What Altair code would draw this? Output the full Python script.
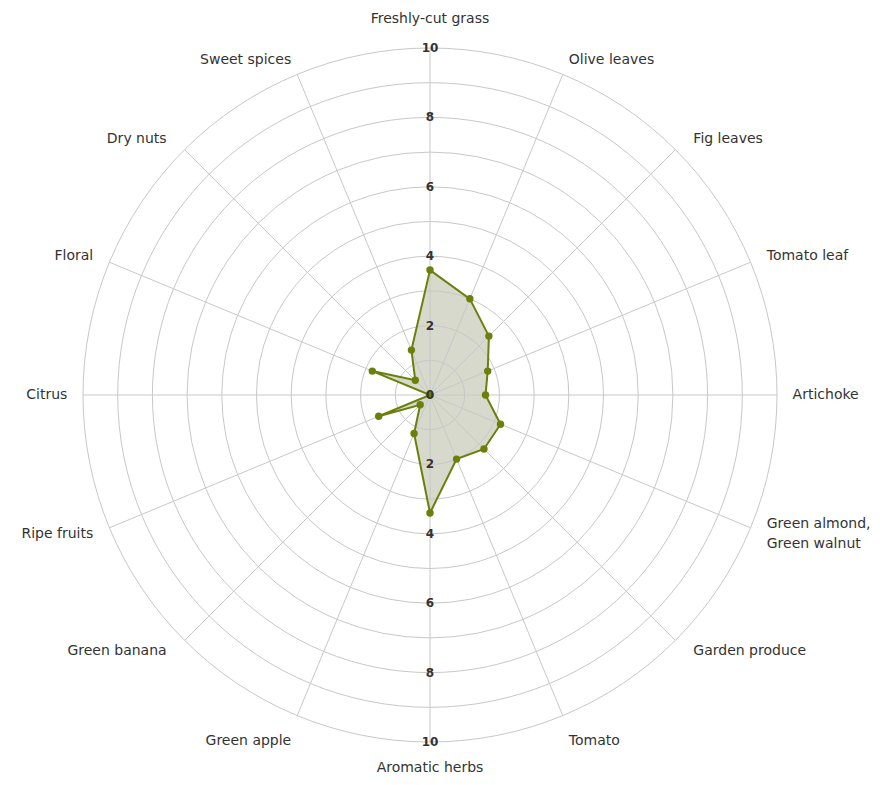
import math
import altair as alt
import pandas as pd

# ---- data ----
categories = [
    "Freshly-cut grass", "Olive leaves", "Fig leaves", "Tomato leaf",
    "Artichoke", "Green almond,\nGreen walnut", "Garden produce", "Tomato",
    "Aromatic herbs", "Green apple", "Green banana", "Ripe fruits",
    "Citrus", "Floral", "Dry nuts", "Sweet spices",
]
values = [3.6, 3.0, 2.4, 1.8, 1.6, 2.2, 2.2, 2.0, 3.4, 1.2, 0.4, 1.6, 0.0, 1.8, 0.6, 1.4]
rings = [1, 2, 3, 4, 5, 6, 7, 8, 9, 10]
ticks_up = [0, 2, 4, 6, 8, 10]
ticks_down = [2, 4, 6, 8, 10]
max_value = 10

N = len(categories)
R_PX = 347
SIZE = 2 * R_PX

LINE_COLOR = "#6b800b"
FILL_COLOR = "#d6d9cc"
GRID_COLOR = "#c8c8c8"
TEXT_COLOR = "#333333"
FONT = "DejaVu Sans"

df = pd.DataFrame({"category": categories, "value": values, "idx": list(range(N))})
spokes = pd.DataFrame({"idx": list(range(N)), "value": [max_value] * N})
ring_df = pd.DataFrame({"r": rings})
tick_df = pd.DataFrame({
    "label": [str(t) for t in ticks_up] + [str(t) for t in ticks_down],
    "pos": ticks_up + [-t for t in ticks_down],
})

xs = alt.Scale(domain=[-max_value, max_value], nice=False, zero=False)
ys = alt.Scale(domain=[-max_value, max_value], nice=False, zero=False)

angle_expr = f"datum.idx * 2 * PI / {N}"

def polar(chart):
    return chart.transform_calculate(
        a=angle_expr
    ).transform_calculate(
        x="datum.value * sin(datum.a)",
        y="datum.value * cos(datum.a)",
    )

# filled polygon
fill_layer = polar(alt.Chart(df)).mark_line(
    interpolate="linear-closed", fill=FILL_COLOR, stroke="transparent", strokeWidth=0
).encode(
    x=alt.X("x:Q", scale=xs, axis=None),
    y=alt.Y("y:Q", scale=ys, axis=None),
    order="idx:Q",
)

# grid rings
ring_layer = alt.Chart(ring_df).mark_arc(
    theta=0, theta2=6.2833, filled=False, color=GRID_COLOR, strokeWidth=1
).encode(
    radius=alt.Radius("r:Q", stack=None,
                      scale=alt.Scale(type="linear", domain=[0, max_value], range=[0, R_PX]))
)

# spokes
spoke_layer = alt.Chart(spokes).transform_calculate(
    a=angle_expr
).transform_calculate(
    x0="0", y0="0",
    xe="datum.value * sin(datum.a)",
    ye="datum.value * cos(datum.a)",
).mark_rule(color=GRID_COLOR, strokeWidth=1).encode(
    x=alt.X("x0:Q", scale=xs, axis=None),
    y=alt.Y("y0:Q", scale=ys, axis=None),
    x2="xe:Q",
    y2="ye:Q",
)

# outline
line_layer = polar(alt.Chart(df)).mark_line(
    interpolate="linear-closed", color=LINE_COLOR, strokeWidth=2
).encode(
    x=alt.X("x:Q", scale=xs, axis=None),
    y=alt.Y("y:Q", scale=ys, axis=None),
    order="idx:Q",
)

point_layer = polar(alt.Chart(df)).mark_circle(
    color=LINE_COLOR, size=55, opacity=1
).encode(
    x=alt.X("x:Q", scale=xs, axis=None),
    y=alt.Y("y:Q", scale=ys, axis=None),
)

# value ticks along vertical axis
tick_layer = alt.Chart(tick_df).transform_calculate(x0="0").mark_text(
    font=FONT, fontSize=12, fontWeight="bold", color=TEXT_COLOR, baseline="middle", align="center"
).encode(
    x=alt.X("x0:Q", scale=xs, axis=None),
    y=alt.Y("pos:Q", scale=ys, axis=None),
    text="label:N",
)

# category labels
def label_layer(filter_expr, align, dy=0):
    return alt.Chart(df).transform_calculate(
        a=angle_expr
    ).transform_calculate(
        s="sin(datum.a)", c="cos(datum.a)"
    ).transform_calculate(
        lr="abs(datum.c) > 0.99 ? 10.85 : 10.45",
        ox="abs(datum.s) > 0.6 && abs(datum.s) < 0.8 ? 0.2 : (abs(datum.s) > 0.9 && abs(datum.s) < 0.99 ? 0.05 : 0)",
        oy="datum.c < -0.99 ? 0.1 : (datum.c < -0.9 ? -0.32 : 0)",
    ).transform_calculate(
        lx="datum.lr * datum.s + (datum.s > 0 ? datum.ox : -datum.ox)",
        ly="datum.lr * datum.c + datum.oy",
    ).transform_filter(filter_expr).mark_text(
        font=FONT, fontSize=14, color=TEXT_COLOR, align=align, baseline="middle",
        lineBreak="\n", lineHeight=20, dy=dy
    ).encode(
        x=alt.X("lx:Q", scale=xs, axis=None),
        y=alt.Y("ly:Q", scale=ys, axis=None),
        text="category:N",
    )

single = "indexof(datum.category, '\\n') < 0"
multi = "indexof(datum.category, '\\n') >= 0"
labels_right = label_layer(f"datum.s > 0.01 && {single}", "left")
labels_right_multi = label_layer(f"datum.s > 0.01 && {multi}", "left", dy=-10)
labels_left = label_layer("datum.s < -0.01", "right")
labels_mid = label_layer("abs(datum.s) <= 0.01", "center")

chart = alt.layer(
    fill_layer, ring_layer, spoke_layer, line_layer, point_layer,
    labels_right, labels_right_multi, labels_left, labels_mid, tick_layer,
).properties(
    width=SIZE, height=SIZE,
    autosize=alt.AutoSizeParams(type="none"),
    padding={"left": 75, "top": 40, "right": 95, "bottom": 35},
    background="white",
).configure_view(stroke=None)

chart.save("out.html", embed_options={"renderer": "svg", "actions": False})
